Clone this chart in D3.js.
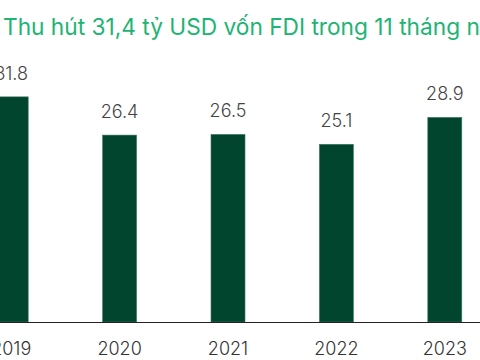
<!DOCTYPE html>
<html>
<head>
<meta charset="utf-8">
<script src="https://cdn.jsdelivr.net/npm/d3@7"></script>
<style>
  html, body { margin: 0; padding: 0; background: #fff; overflow: hidden; }
  svg { display: block; }
</style>
</head>
<body>
<svg id="chart" width="480" height="360"></svg>
<script>
const titleText = "Thu hút 31,4 tỷ USD vốn FDI trong 11 tháng năm 2024";
const years = ["2019", "2020", "2021", "2022", "2023"];
const values = [31.8, 26.4, 26.5, 25.1, 28.9];
const valueLabels = ["31.8", "26.4", "26.5", "25.1", "28.9"];

const svg = d3.select("#chart");
const W = 480, H = 360;
const baseY = 322;

// band scale positioned so that bars match the cropped reference
const step = 108.4;
const x = d3.scaleBand()
  .domain(years)
  .range([-43, -43 + step * years.length])
  .paddingInner(1 - 34 / step)
  .paddingOuter((1 - 34 / step) / 2);

const y = d3.scaleLinear().domain([0, 40]).range([baseY, baseY - 7.08 * 40]);

svg.append("text")
  .attr("x", 3)
  .attr("y", 35)
  .attr("fill", "#20b474")
  .style("font-family", "Inter, 'Noto Sans', sans-serif")
  .style("font-weight", 400)
  .style("font-size", "22.7px")
  .text(titleText);

svg.selectAll("rect.bar")
  .data(values)
  .join("rect")
  .attr("class", "bar")
  .attr("x", (d, i) => x(years[i]))
  .attr("width", x.bandwidth())
  .attr("y", d => y(d))
  .attr("height", d => y(0) - y(d))
  .attr("fill", "#02452e")
  .attr("stroke", "#3f7a62")
  .attr("stroke-width", 0.6);

svg.selectAll("text.val")
  .data(values)
  .join("text")
  .attr("class", "val")
  .attr("x", (d, i) => x(years[i]) + x.bandwidth() / 2)
  .attr("y", d => y(d) - 17)
  .attr("text-anchor", "middle")
  .attr("fill", "#444")
  .style("font-family", "Inter, 'Noto Sans', sans-serif")
  .style("font-weight", 300)
  .style("font-size", "18px")
  .text((d, i) => valueLabels[i]);

const xAxis = d3.axisBottom(x).tickSize(0).tickPadding(20);
const ax = svg.append("g")
  .attr("transform", `translate(0,${baseY})`)
  .call(xAxis);
ax.select(".domain").remove();
ax.selectAll("text")
  .attr("fill", "#333")
  .style("font-family", "Inter, 'Noto Sans', sans-serif")
  .style("font-weight", 300)
  .style("font-size", "18px");

svg.append("line")
  .attr("x1", 0).attr("x2", W)
  .attr("y1", baseY + 0.5).attr("y2", baseY + 0.5)
  .attr("stroke", "#222")
  .attr("stroke-width", 1);
</script>
</body>
</html>
